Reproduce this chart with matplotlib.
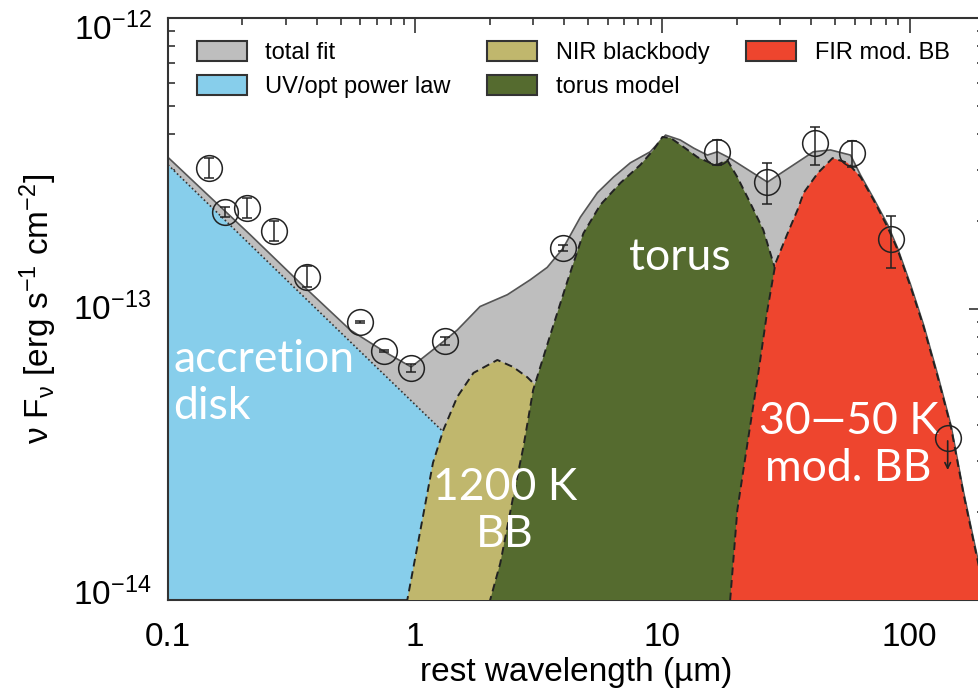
import matplotlib
matplotlib.use("Agg")
import matplotlib.pyplot as plt
import matplotlib.transforms as mtransforms
from matplotlib.patches import Patch

plt.rcParams['font.family'] = ['Liberation Sans', 'DejaVu Sans']
plt.rcParams['mathtext.fontset'] = 'custom'
plt.rcParams['mathtext.rm'] = 'Liberation Sans'
plt.rcParams['mathtext.it'] = 'Liberation Sans:italic'
plt.rcParams['mathtext.bf'] = 'Liberation Sans:bold'
plt.rcParams['mathtext.default'] = 'regular'

# photometry (rest wavelength in micron, nu F_nu in erg/s/cm^2)
obs_wave = [0.147, 0.170, 0.209, 0.268, 0.365, 0.598, 0.749, 0.964, 1.32, 3.97,
            16.7, 26.6, 41.6, 58.7, 83.8]
obs_flux = [3.05e-13, 2.15e-13, 2.22e-13, 1.85e-13, 1.29e-13, 9.0e-14, 7.18e-14, 6.26e-14,
            7.76e-14, 1.62e-13, 3.47e-13, 2.73e-13, 3.72e-13, 3.44e-13, 1.74e-13]
obs_lo = [2.82e-13, 2.07e-13, 2.05e-13, 1.71e-13, 1.19e-13, 8.93e-14, 7.12e-14, 6.07e-14,
          7.52e-14, 1.58e-13, 3.13e-13, 2.30e-13, 3.13e-13, 3.08e-13, 1.38e-13]
obs_hi = [3.30e-13, 2.24e-13, 2.40e-13, 2.00e-13, 1.40e-13, 9.07e-14, 7.24e-14, 6.46e-14,
          8.01e-14, 1.66e-13, 3.81e-13, 3.18e-13, 4.22e-13, 3.78e-13, 2.09e-13]
ulim_wave = [142.6]
ulim_flux = [3.6e-14]

# model components
total_wave = [0.100, 0.135, 0.215, 0.342, 0.546, 0.756, 0.964, 1.32, 1.48, 1.83, 2.36, 2.92,
              3.42, 3.97, 4.66, 5.46, 6.34, 7.42, 8.93, 10.3, 11.8, 13.4, 15.2, 16.7, 18.5,
              26.6, 33.0, 40.8, 47.9, 57.7, 63.4, 71.5, 81.5, 89.4, 101, 114, 130, 147, 165,
              182, 201]
total_flux = [3.32e-13, 2.61e-13, 1.80e-13, 1.23e-13, 8.47e-14, 7.11e-14, 6.32e-14, 7.81e-14,
              8.47e-14, 1.02e-13, 1.12e-13, 1.26e-13, 1.39e-13, 1.62e-13, 2.07e-13, 2.51e-13,
              2.84e-13, 3.18e-13, 3.47e-13, 3.96e-13, 3.81e-13, 3.57e-13, 3.38e-13, 3.47e-13,
              3.32e-13, 2.73e-13, 3.08e-13, 3.47e-13, 3.52e-13, 3.38e-13, 2.88e-13, 2.40e-13,
              1.95e-13, 1.62e-13, 1.21e-13, 8.81e-14, 5.93e-14, 3.99e-14, 2.37e-14, 1.60e-14,
              1.08e-14]

pl_wave = [0.100, 0.359, 1.30, 2.66, 3.21]
pl_flux = [3.13e-13, 1.09e-13, 3.78e-14, 2.09e-14, 7.2e-15]

nir_wave = [0.894, 0.929, 1.05, 1.18, 1.30, 1.48, 1.72, 2.15, 2.49, 2.84, 3.12, 3.52, 4.25,
            5.12, 5.61]
nir_flux = [7.2e-15, 1.0e-14, 1.74e-14, 2.96e-14, 3.84e-14, 4.99e-14, 6.03e-14, 6.68e-14,
            6.32e-14, 5.83e-14, 5.39e-14, 4.16e-14, 2.21e-14, 1.0e-14, 6.7e-15]

torus_wave = [1.96, 2.01, 2.21, 2.49, 2.74, 3.00, 3.52, 4.12, 4.79, 5.61, 6.76, 8.15, 9.20,
              10.0, 10.8, 12.2, 13.9, 15.6, 16.7, 18.3, 20.1, 22.7, 25.6, 28.1, 31.5, 36.2,
              47.9, 69.5, 83.8]
torus_flux = [7.2e-15, 1.0e-14, 1.34e-14, 2.26e-14, 3.36e-14, 5.27e-14, 8.15e-14, 1.24e-13,
              1.82e-13, 2.28e-13, 2.71e-13, 3.13e-13, 3.52e-13, 3.90e-13, 3.87e-13, 3.60e-13,
              3.32e-13, 3.18e-13, 3.13e-13, 3.25e-13, 2.84e-13, 2.31e-13, 1.87e-13, 1.44e-13,
              1.07e-13, 6.68e-14, 3.03e-14, 1.0e-14, 6.2e-15]

fir_wave = [17.8, 18.8, 20.1, 22.1, 24.3, 26.6, 28.7, 32.1, 35.2, 37.3, 42.5, 48.8, 56.1,
            63.4, 71.5, 81.5, 89.4, 101, 114, 130, 147, 165, 182, 201, 223]
fir_flux = [6.7e-15, 1.0e-14, 2.04e-14, 3.47e-14, 5.83e-14, 9.93e-14, 1.44e-13, 1.82e-13,
            2.19e-13, 2.51e-13, 2.93e-13, 3.30e-13, 3.18e-13, 2.84e-13, 2.37e-13, 1.91e-13,
            1.60e-13, 1.19e-13, 8.67e-14, 5.83e-14, 3.93e-14, 2.33e-14, 1.57e-14, 1.06e-14,
            7.2e-15]

labels = ['total fit', 'UV/opt power law', 'NIR blackbody', 'torus model', 'FIR mod. BB']
colors = ['#bebebe', '#87ceeb', '#c0b76d', '#556b2f', '#ee452e']

fig = plt.figure(figsize=(9.79, 6.91), dpi=100)
ax = fig.add_axes([168/979, 91/691, 816/979, 582/691])
floor = 1e-16

# total fit
ax.fill_between(total_wave, total_flux, floor, color=colors[0], lw=0, zorder=1)
ax.plot(total_wave, total_flux, color='#555555', lw=1.2, zorder=1.5)
# accretion disk power law
ax.fill_between(pl_wave, pl_flux, floor, color=colors[1], lw=0, zorder=2)
ax.plot(pl_wave, pl_flux, color='#333333', lw=1.2, ls=(0, (1, 1.5)), zorder=2.1)
# hot dust blackbody
ax.fill_between(nir_wave, nir_flux, floor, color=colors[2], lw=0, zorder=3)
ax.plot(nir_wave, nir_flux, color='#222222', lw=1.4, ls=(0, (4, 2.5)), zorder=3.1)
# torus
ax.fill_between(torus_wave, torus_flux, floor, color=colors[3], lw=0, zorder=4)
ax.plot(torus_wave, torus_flux, color='#222222', lw=1.4, ls=(0, (4, 2.5)), zorder=4.1)
# cold dust
ax.fill_between(fir_wave, fir_flux, floor, color=colors[4], lw=0, zorder=5)
ax.plot(fir_wave, fir_flux, color='#222222', lw=1.4, ls=(0, (4, 2.5)), zorder=5.1)

# data points
yerr = [[f - l for f, l in zip(obs_flux, obs_lo)], [h - f for f, h in zip(obs_flux, obs_hi)]]
ax.errorbar(obs_wave, obs_flux, yerr=yerr, fmt='o', ms=18.5, mfc='none', mec='#222222',
            mew=1.1, ecolor='#222222', elinewidth=1.1, capsize=3.5, capthick=1.1, zorder=7)
ax.plot(ulim_wave, ulim_flux, 'o', ms=18.5, mfc='none', mec='#222222', mew=1.1, zorder=7)
for w, f in zip(ulim_wave, ulim_flux):
    ax.annotate('', xy=(w, f * 0.76), xytext=(w, f),
                arrowprops=dict(arrowstyle='->', color='#222222', lw=1.2), zorder=7)

# labels inside the regions
tk = dict(color='white', family='Lato', fontsize=32, zorder=6)
ax.text(0.105, 5.57e-14, 'accretion\ndisk', ha='left', va='center', linespacing=1.2, **tk)
ax.text(11.8, 1.50e-13, 'torus', ha='center', va='center', **tk)
ax.text(2.31, 2.02e-14, '1200 K\nBB', ha='center', va='center', linespacing=1.2, **tk)
ax.text(56.6, 3.41e-14, '30\u201450 K\nmod. BB', ha='center', va='center', linespacing=1.2, **tk)

ax.set_xscale('log')
ax.set_yscale('log')
ax.set_xlim(0.1, 200)
ax.set_ylim(1e-14, 1e-12)
ax.set_xticks([0.1, 1, 10, 100])
ax.set_xticklabels(['0.1', '1', '10', '100'])
ax.set_yticks([1e-14, 1e-13, 1e-12])
ax.set_yticklabels(['$10^{-14}$', '$10^{-13}$', '$10^{-12}$'])
ax.tick_params(which='both', direction='in', top=True, right=True, labelsize=24,
               color='#333333', width=1.2)
ax.tick_params(which='major', length=11, pad=12)
ax.tick_params(axis='x', which='major', pad=16)
ax.tick_params(which='minor', length=5)
for s in ax.spines.values():
    s.set_linewidth(1.5)
    s.set_color('#333333')

# nudge the y tick labels like in the original layout
for lab, dy in zip(ax.get_yticklabels(), [9, 3, -8]):
    lab.set_transform(lab.get_transform() + mtransforms.ScaledTranslation(0, dy / 100, fig.dpi_scale_trans))

ax.set_xlabel('rest wavelength (\u00b5m)', fontsize=24, labelpad=3)
ax.set_ylabel('\u03bd F$_{\u03bd}$ [erg s$^{-1}$ cm$^{-2}$]', fontsize=24, labelpad=10)

handles = [Patch(facecolor=c, edgecolor='#333333', lw=1.5) for c in colors]
ax.legend(handles, labels, ncol=3, loc='upper left', bbox_to_anchor=(197/979, 1 - 41/691),
          bbox_transform=fig.transFigure, frameon=False, fontsize=17, handlelength=2.1,
          handleheight=0.95, handletextpad=0.8, columnspacing=1.55, labelspacing=0.45,
          borderpad=0, borderaxespad=0)

fig.savefig('out.png', dpi=100)
